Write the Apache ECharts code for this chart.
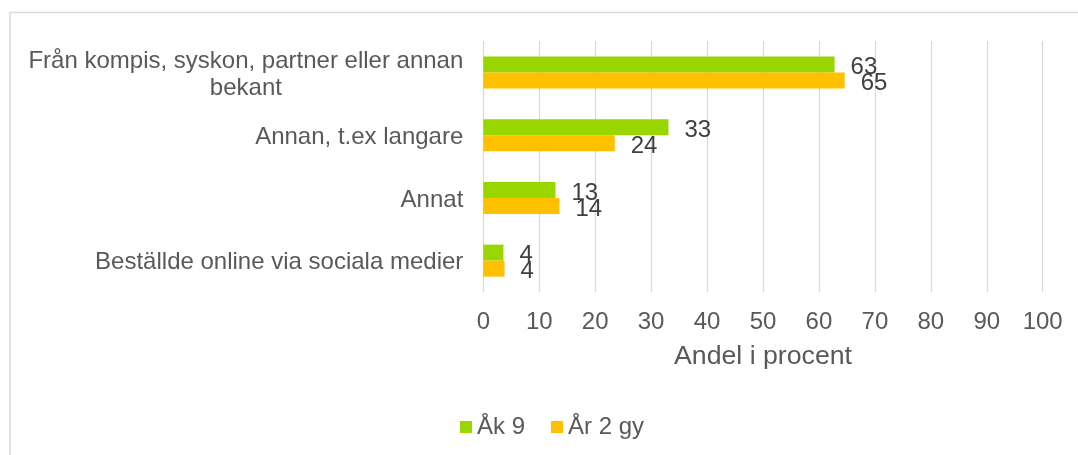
<!DOCTYPE html>
<html><head><meta charset="utf-8">
<script src="https://cdn.jsdelivr.net/npm/echarts@6/dist/echarts.min.js"></script>
<style>html,body{margin:0;padding:0;background:#fff}#c{width:1078px;height:455px}</style>
</head><body><div id="c"></div>
<script>
const categories = ['Från kompis, syskon, partner eller annan\nbekant', 'Annan, t.ex langare', 'Annat', 'Beställde online via sociala medier'];
const seriesNames = ['Åk 9', 'År 2 gy'];
const ak9 = [62.8, 33.1, 12.9, 3.6];
const ar2gy = [64.6, 23.5, 13.6, 3.8];
const xTicks = { min: 0, max: 100, interval: 10 };
const axisName = 'Andel i procent';

const FONT = "'Liberation Sans', Arial, sans-serif";
const chart = echarts.init(document.getElementById('c'), null, { renderer: 'canvas' });
const labelStyle = {
  show: true, position: 'right', distance: 16, fontSize: 24, fontFamily: FONT, color: '#404040',
  offset: [0, 3],
  formatter: p => String(Math.round(p.value))
};
chart.setOption({
  animation: false,
  textStyle: { fontFamily: FONT },
  graphic: [{
    type: 'rect', silent: true, z: -10,
    shape: { x: 10, y: 12.5, width: 1100, height: 500 },
    style: { fill: 'none', stroke: '#D9D9D9', lineWidth: 1.5 }
  }],
  grid: { left: 483.3, right: 35.3, top: 41, bottom: 163, containLabel: false },
  legend: {
    data: seriesNames, left: 455, top: 410, icon: 'rect', itemWidth: 12, itemHeight: 12, itemGap: 26,
    textStyle: { fontSize: 24, color: '#595959', fontFamily: FONT }
  },
  xAxis: {
    type: 'value', min: xTicks.min, max: xTicks.max, interval: xTicks.interval,
    axisLine: { show: false }, axisTick: { show: false },
    splitLine: { show: true, lineStyle: { color: '#D9D9D9', width: 1.3 } },
    axisLabel: { fontSize: 24, color: '#595959', fontFamily: FONT, margin: 18 },
    name: axisName, nameLocation: 'middle', nameGap: 51,
    nameTextStyle: { fontSize: 26.7, color: '#595959', fontFamily: FONT }
  },
  yAxis: {
    type: 'category', inverse: true, data: categories,
    axisLine: { show: false }, axisTick: { show: false }, splitLine: { show: false },
    axisLabel: {
      margin: 20, color: '#595959', fontSize: 24, fontFamily: FONT, lineHeight: 27,
      padding: [4, 0, 0, 0],
      formatter: v => v.split('\n').map(s => '{c|' + s + '}').join('\n'),
      rich: { c: { align: 'center', fontSize: 24, color: '#595959', fontFamily: FONT, lineHeight: 27 } }
    }
  },
  series: [
    { name: seriesNames[0], type: 'bar', data: ak9, barWidth: 16, barGap: '0%', itemStyle: { color: '#99D600' }, label: labelStyle },
    { name: seriesNames[1], type: 'bar', data: ar2gy, barWidth: 16, barGap: '0%', itemStyle: { color: '#FFC000' }, label: labelStyle }
  ]
});
</script></body></html>
